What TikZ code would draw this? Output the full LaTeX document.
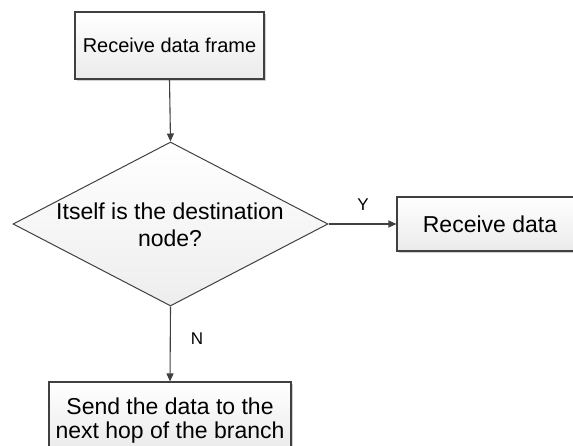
\documentclass[tikz,border=0pt]{standalone}
\usepackage{fontspec}
\setmainfont{Liberation Sans}
\usetikzlibrary{shapes.geometric,arrows.meta,shadows}

\definecolor{edge}{HTML}{404040}
\definecolor{shade}{HTML}{D0D0D0}

\tikzset{
  box/.style={draw=edge, line width=1.1pt, rectangle, inner sep=0pt,
    top color=white, bottom color=black!8,
    general shadow={fill=shade, shadow xshift=2.2pt, shadow yshift=-2.2pt}},
  decision/.style={draw=edge, line width=1pt, diamond, inner sep=0pt,
    top color=white, bottom color=black!7},
  flow/.style={draw=edge, line width=1.1pt, -{Triangle[length=8pt,width=7pt]}},
  bigtext/.style={font=\fontsize{23}{27}\selectfont, align=center},
  branch/.style={font=\fontsize{17}{19}\selectfont, text=black}
}

\begin{document}
\begin{tikzpicture}[x=1pt, y=-1pt]
  \useasboundingbox (0,0) rectangle (573,446);
  \clip (0,0) rectangle (573,446);

  % start box
  \node[box, minimum width=189pt, minimum height=67pt] (start) at (169.5,45.5) {};
  \node[font=\fontsize{20}{23}\selectfont] (starttext) at (start) {Receive data frame};

  % decision diamond
  \node[decision, minimum width=315pt, minimum height=164pt] (ask) at (170.5,224) {};
  \node[bigtext] (asktext) at (170,225) {Itself is the destination\\node?};

  % accept box (runs off the right edge)
  \node[box, minimum width=186pt, minimum height=54pt] (accept) at (490,224) {};
  \node[bigtext] (accepttext) at (490,224) {Receive data};

  % forward box (runs off the bottom edge)
  \node[box, minimum width=242pt, minimum height=68pt] (forward) at (170,416) {};
  \node[font=\fontsize{23}{24}\selectfont, align=center] (forwardtext) at (170,421)
    {Send the data to the\\next hop of the branch};

  % connectors
  \draw[flow] (start.south) -- (ask.north);
  \draw[flow] (ask.east) -- (accept.west);
  \draw[flow] (ask.south) -- (forward.north);

  % branch labels
  \node[branch] (yes) at (363,204.5) {Y};
  \node[branch] (no) at (197,339) {N};
\end{tikzpicture}
\end{document}
